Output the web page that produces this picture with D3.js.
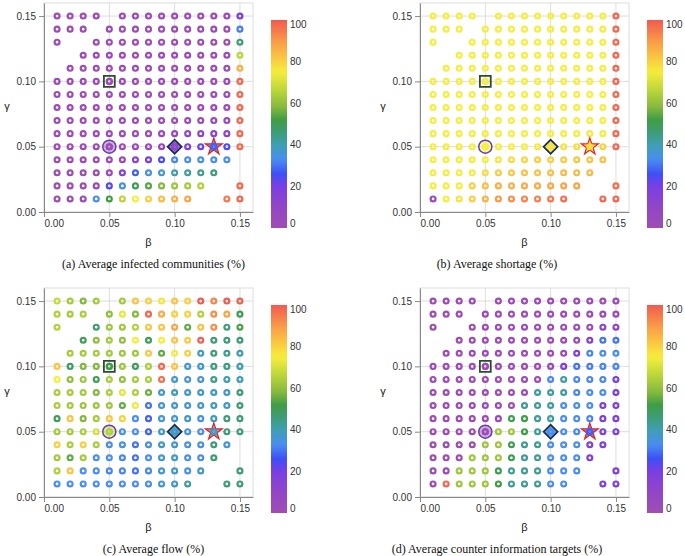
<!DOCTYPE html>
<html>
<head>
<meta charset="utf-8">
<script src="https://cdn.jsdelivr.net/npm/d3@7/dist/d3.min.js"></script>
<style>
body { margin: 0; background: #fff; }
svg { display: block; }
</style>
</head>
<body>
<svg id="chart" width="685" height="556"></svg>
<script>
// ---------- data ----------
const betaValues  = [0.01,0.02,0.03,0.04,0.05,0.06,0.07,0.08,0.09,0.10,0.11,0.12,0.13,0.14,0.15];
const gammaValues = [0.15,0.14,0.13,0.12,0.11,0.10,0.09,0.08,0.07,0.06,0.05,0.04,0.03,0.02,0.01];
const axisTicks = [0.00, 0.05, 0.10, 0.15];
const legendTicks = [0, 20, 40, 60, 80, 100];
const captions = [
  "(a) Average infected communities (%)",
  "(b) Average shortage (%)",
  "(c) Average flow (%)",
  "(d) Average counter information targets (%)"
];
// rows: gamma 0.15 -> 0.01 ; columns: beta 0.01 -> 0.15 ; null = no run
const infectedCommunities = [
  [2,2,2,2,null,2,2,2,2,2,2,2,2,2,20],
  [2,2,2,null,2,2,2,2,2,2,2,2,2,2,31],
  [2,null,null,2,2,2,2,2,2,2,2,2,2,2,46],
  [null,null,2,2,2,2,2,2,2,2,2,2,2,2,66],
  [null,2,2,2,2,2,2,2,2,2,2,2,2,2,86],
  [2,2,2,2,2,2,2,2,2,2,2,2,2,2,98],
  [2,2,2,2,2,2,2,2,2,2,2,2,2,2,98],
  [2,2,2,2,2,2,2,2,2,2,2,2,2,2,98],
  [2,2,2,2,2,2,2,2,2,2,4,5,6,6,98],
  [2,2,2,2,2,2,2,2,4,6,8,10,13,12,98],
  [2,2,2,2,3,2,3,5,8,12,18,22,28,25,98],
  [2,2,2,2,2,3,12,20,25,32,33,34,34,33,null],
  [2,2,2,2,3,18,28,34,37,41,42,44,46,null,null],
  [2,2,2,3,24,35,50,54,58,62,63,65,null,null,98],
  [2,2,2,33,52,66,75,80,84,86,88,null,null,95,98]
];
const averageShortage = [
  [75,75,75,75,null,75,75,75,75,75,75,75,75,75,98],
  [75,75,75,null,75,75,75,75,75,75,75,75,75,75,98],
  [75,null,null,75,75,75,75,75,75,75,75,75,75,75,98],
  [null,null,75,75,75,75,75,75,75,75,75,75,75,75,98],
  [null,75,75,75,75,75,75,75,75,75,75,75,75,75,98],
  [75,75,75,75,75,75,75,75,75,75,75,75,75,75,98],
  [75,75,75,75,75,75,75,75,75,75,75,75,75,75,98],
  [75,75,75,75,75,75,75,75,75,75,75,75,75,75,98],
  [75,75,75,75,75,75,75,75,75,75,75,75,75,75,98],
  [75,75,75,75,75,75,75,75,75,75,75,75,76,75,98],
  [75,75,75,75,75,75,75,75,76,77,77,78,78,80,98],
  [75,75,75,75,75,76,78,79,80,80,81,82,82,83,null],
  [75,75,75,75,78,81,82,83,83,83,84,84,84,null,null],
  [75,75,75,80,83,86,86,87,87,87,88,88,null,null,97],
  [4,75,77,80,85,90,92,93,94,95,97,null,null,98,98]
];
const averageFlow = [
  [68,63,58,63,null,63,82,80,74,82,80,100,93,100,99],
  [65,63,64,null,60,73,58,98,87,80,80,65,92,88,50],
  [65,null,null,47,62,62,65,82,82,88,55,83,92,46,53],
  [null,null,50,60,63,60,75,50,75,82,81,99,46,46,46],
  [null,63,63,63,63,62,62,82,55,76,80,37,46,44,40],
  [82,48,58,58,52,62,50,64,98,82,37,37,45,45,40],
  [75,60,62,50,64,60,63,64,97,37,37,37,44,40,40],
  [64,63,63,58,64,72,64,56,37,40,38,38,38,38,46],
  [64,63,62,62,62,55,74,30,37,38,37,37,38,38,46],
  [50,82,58,63,82,80,33,28,37,37,38,34,40,46,46],
  [63,63,64,70,65,33,33,28,38,38,35,33,38,46,46],
  [80,64,80,64,34,34,30,34,38,38,34,34,46,36,null],
  [63,55,63,33,33,32,30,33,38,38,35,34,47,null,null],
  [65,82,33,33,32,32,30,32,38,38,34,38,null,null,46],
  [33,33,33,33,33,33,33,33,37,38,42,null,null,46,46]
];
const counterTargets = [
  [2,2,2,2,null,2,2,2,2,2,2,2,2,2,5],
  [2,2,2,null,2,2,2,2,2,2,2,2,2,2,5],
  [2,null,null,2,2,2,2,2,2,2,2,2,2,12,10],
  [null,null,2,2,2,2,2,2,2,2,2,2,18,30,30],
  [null,2,2,2,2,2,2,2,2,2,2,18,32,33,33],
  [2,2,2,2,2,2,2,2,2,4,18,30,31,32,32],
  [2,2,2,2,2,2,2,2,2,32,42,32,32,32,20],
  [2,2,2,2,2,2,2,2,42,42,42,32,33,33,20],
  [2,2,2,2,2,2,2,43,43,42,33,33,33,18,18],
  [2,2,2,2,2,5,50,52,43,42,33,33,32,18,18],
  [2,2,2,2,2,62,62,52,43,33,33,32,28,18,18],
  [2,2,2,2,62,62,50,43,43,33,33,33,18,18,null],
  [2,2,2,62,62,62,50,43,43,33,33,33,18,null,null],
  [2,2,62,62,62,50,43,43,43,33,33,33,null,null,18],
  [2,98,62,62,62,52,43,43,43,33,33,null,null,18,18]
];
const panelGrids = [infectedCommunities, averageShortage, averageFlow, counterTargets];
// highlighted parameter settings [beta, gamma]
const squareSetting  = [0.05, 0.10];
const circleSetting  = [0.05, 0.05];
const diamondSetting = [0.10, 0.05];
const starSetting    = [0.13, 0.05];
// colour scale stops
const colorStops  = [0, 10, 20, 26, 33, 40, 46, 52, 58, 66, 75, 82, 90, 100];
const colorRange  = ["#a04db3","#9246c6","#7a3fe2","#3f4ff6","#4a8ff0","#3f9eb3","#3e9c78","#3f9d45","#84b83e","#b9d53a","#f5ee3b","#fac642","#f89a47","#f25a50"];

// ---------- drawing ----------
const svg = d3.select("#chart");
svg.append("rect").attr("width", 685).attr("height", 556).attr("fill", "#fff");

const color = d3.scaleLinear().domain(colorStops).range(colorRange).interpolate(d3.interpolateRgb);

const defs = svg.append("defs");
const grad = defs.append("linearGradient").attr("id", "legendGrad")
  .attr("x1", 0).attr("y1", 1).attr("x2", 0).attr("y2", 0);
d3.range(0, 101, 2).forEach(v => {
  grad.append("stop").attr("offset", v / 100).attr("stop-color", color(v));
});

const panelOffsets = [[0, 0], [376, 0], [0, 285], [376, 285]];
const captionX = [153.5, 497];
const sansFont = "'Liberation Sans', Arial, Helvetica, sans-serif";

const x = d3.scaleLinear().domain([0, 0.16]).range([44, 253]);
const y = d3.scaleLinear().domain([0, 0.16]).range([212, 3]);
const legendY = d3.scaleLinear().domain([0, 100]).range([228, 20]);

panelGrids.forEach((grid, pi) => {
  const [ox, oy] = panelOffsets[pi];
  const g = svg.append("g").attr("transform", `translate(${ox},${oy})`);

  // gridlines
  g.append("g").selectAll("line.vx").data(axisTicks).join("line")
    .attr("x1", d => x(d)).attr("x2", d => x(d)).attr("y1", y(0.16)).attr("y2", y(0))
    .attr("stroke", "#ddd").attr("stroke-width", 1);
  g.append("g").selectAll("line.hy").data(axisTicks).join("line")
    .attr("y1", d => y(d)).attr("y2", d => y(d)).attr("x1", x(0)).attr("x2", x(0.16))
    .attr("stroke", "#ddd").attr("stroke-width", 1);
  g.append("rect").attr("x", x(0)).attr("y", y(0.16))
    .attr("width", x(0.16) - x(0)).attr("height", y(0) - y(0.16))
    .attr("fill", "none").attr("stroke", "#ddd");

  // axes
  const xa = g.append("g").attr("transform", `translate(0,${y(0)})`)
    .call(d3.axisBottom(x).tickValues(axisTicks).tickFormat(d3.format(".2f")).tickSize(5).tickSizeOuter(0).tickPadding(3));
  const ya = g.append("g").attr("transform", `translate(${x(0)},0)`)
    .call(d3.axisLeft(y).tickValues(axisTicks).tickFormat(d3.format(".2f")).tickSize(5).tickSizeOuter(0).tickPadding(3));
  [xa, ya].forEach(a => {
    a.select(".domain").attr("stroke", "#888");
    a.selectAll(".tick line").attr("stroke", "#888");
    a.selectAll(".tick text").attr("fill", "#333").style("font-family", sansFont).style("font-size", "10px");
  });
  xa.selectAll(".tick text").filter(d => d === 0).attr("text-anchor", "start");

  g.append("text").attr("x", (x(0) + x(0.16)) / 2).attr("y", 246)
    .attr("text-anchor", "middle").style("font-family", sansFont)
    .style("font-size", "11px").style("font-weight", "normal").attr("fill", "#222").text("β");
  g.append("text").attr("x", 7).attr("y", 110)
    .attr("text-anchor", "middle").style("font-family", sansFont)
    .style("font-size", "11px").style("font-weight", "normal").attr("fill", "#222").text("γ");

  // points
  const pts = [];
  grid.forEach((row, ri) => row.forEach((v, ci) => {
    if (v !== null) pts.push({ beta: betaValues[ci], gamma: gammaValues[ri], value: v });
  }));
  const valueAt = (b, gm) => {
    const p = pts.find(d => Math.abs(d.beta - b) < 1e-9 && Math.abs(d.gamma - gm) < 1e-9);
    return p ? p.value : 0;
  };

  const ring = d3.symbol().type(d3.symbolCircle).size(19);
  const drawRings = (data) => g.append("g").selectAll("path").data(data).join("path")
    .attr("d", ring)
    .attr("transform", d => `translate(${x(d.beta)},${y(d.gamma)})`)
    .attr("fill", "none").attr("stroke", d => color(d.value)).attr("stroke-width", 2.2);
  drawRings(pts);

  // highlighted settings
  const specials = [
    { s: squareSetting, type: d3.symbolSquare, size: 118, rot: 0, stroke: "#2f4a30", fill: "none", op: 0, sw: 1.8 },
    { s: circleSetting, type: d3.symbolCircle, size: 135, rot: 0, stroke: "#6a3ea8", fill: "data", op: 0.45, sw: 1.5 },
    { s: diamondSetting, type: d3.symbolSquare, size: 98, rot: 45, stroke: "#1d2f55", fill: "data", op: 0.8, sw: 1.8 },
    { s: starSetting, type: d3.symbolStar, size: 88, rot: 0, stroke: "#e8211d", fill: "data", op: 0.75, sw: 1.2 }
  ];
  const sg = g.append("g");
  specials.forEach(sp => {
    const v = valueAt(sp.s[0], sp.s[1]);
    sg.append("path")
      .attr("d", d3.symbol().type(sp.type).size(sp.size))
      .attr("transform", `translate(${x(sp.s[0])},${y(sp.s[1])}) rotate(${sp.rot})`)
      .attr("fill", sp.fill === "data" ? color(v) : "none")
      .attr("fill-opacity", sp.op)
      .attr("stroke", sp.stroke).attr("stroke-width", sp.sw);
  });
  drawRings(pts.filter(d => specials.some(sp => Math.abs(sp.s[0] - d.beta) < 1e-9 && Math.abs(sp.s[1] - d.gamma) < 1e-9)));

  // legend
  const lg = g.append("g");
  lg.append("rect").attr("x", 271).attr("y", legendY(100)).attr("width", 16)
    .attr("height", legendY(0) - legendY(100)).attr("fill", "url(#legendGrad)");
  lg.selectAll("text").data(legendTicks).join("text")
    .attr("x", 290).attr("y", d => legendY(d))
    .attr("dy", d => d === 100 ? "0.78em" : (d === 0 ? "-0.1em" : "0.35em"))
    .style("font-family", sansFont).style("font-size", "10px").attr("fill", "#333")
    .text(d => d);

  // caption
  g.append("text").attr("x", captionX[pi % 2] - ox).attr("y", 268)
    .attr("text-anchor", "middle")
    .style("font-family", "'Liberation Serif', 'Times New Roman', serif").style("font-size", "12px")
    .attr("fill", "#111").text(captions[pi]);
});
</script>
</body>
</html>
